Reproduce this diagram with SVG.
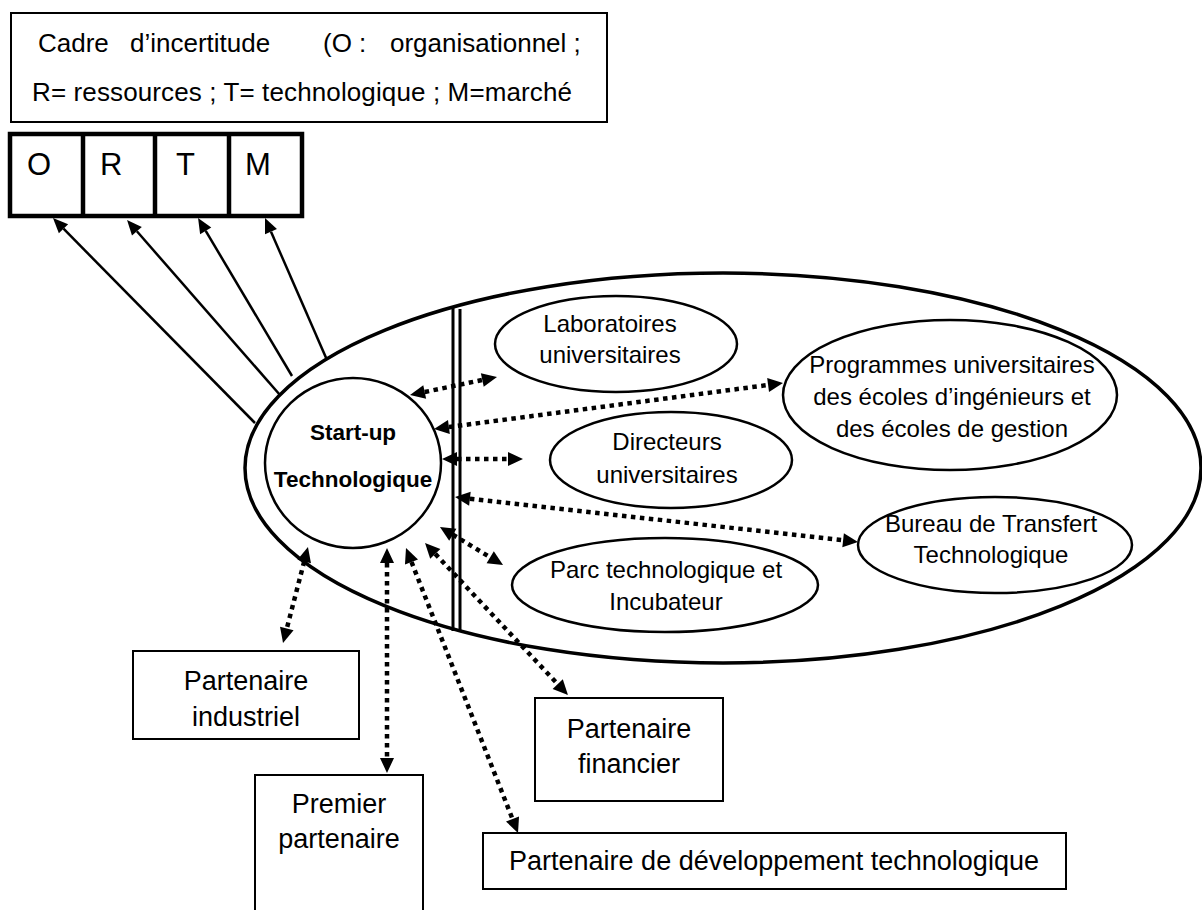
<svg xmlns="http://www.w3.org/2000/svg" width="1202" height="910" viewBox="0 0 1202 910">
<style>
text{font-family:"Liberation Sans",Arial,sans-serif;fill:#000}
.c{text-anchor:middle}
.f24{font-size:24px}
.f27{font-size:27px}
.f26{font-size:26px}
.f31{font-size:31px}
.b{font-weight:bold;font-size:22.5px}
.box{fill:#fff;stroke:#000;stroke-width:2}
.ell{fill:#fff;stroke:#000;stroke-width:2.5}
.solid{stroke:#000;stroke-width:2.5;fill:none;marker-end:url(#ah)}
.dot{stroke:#000;stroke-width:4.5;stroke-dasharray:4.5 4.5;fill:none;marker-start:url(#dh);marker-end:url(#dh)}
</style>
<defs>
<marker id="ah" markerUnits="userSpaceOnUse" viewBox="0 -7 15 14" markerWidth="15" markerHeight="14" refX="0" refY="0" orient="auto" overflow="visible">
<path d="M0,-6.5 L15,0 L0,6.5 Z" fill="#000"/>
</marker>
<marker id="dh" markerUnits="userSpaceOnUse" viewBox="0 -7 15 14" markerWidth="15" markerHeight="14" refX="0" refY="0" orient="auto-start-reverse" overflow="visible">
<path d="M0,-7 L15,0 L0,7 Z" fill="#000"/>
</marker>
</defs>
<rect width="1202" height="910" fill="#fff"/>

<g id="cadre">
<rect class="box" x="11" y="13" width="596" height="109"/>
<text class="f26" x="38" y="52">Cadre</text>
<text class="f26" x="130" y="52">d’incertitude</text>
<text class="f26" x="323" y="52">(O :</text>
<text class="f26" x="390" y="52">organisationnel ;</text>
<text class="f26" x="32" y="101" textLength="540" lengthAdjust="spacing">R= ressources ; T= technologique ; M=marché</text>
</g>

<g id="ortm">
<rect x="10" y="134" width="292" height="82" fill="#fff" stroke="#000" stroke-width="4.5"/>
<line x1="83" y1="134" x2="83" y2="216" stroke="#000" stroke-width="4.5"/>
<line x1="155" y1="134" x2="155" y2="216" stroke="#000" stroke-width="4.5"/>
<line x1="229" y1="134" x2="229" y2="216" stroke="#000" stroke-width="4.5"/>
<text class="f31" x="27" y="175">O</text>
<text class="f31" x="100" y="175">R</text>
<text class="f31" x="176" y="175">T</text>
<text class="f31" x="245" y="175">M</text>
</g>

<g id="ecosysteme">
<ellipse cx="723" cy="468" rx="478" ry="195" fill="none" stroke="#000" stroke-width="3.5"/>
<line x1="453" y1="308" x2="453" y2="631" stroke="#000" stroke-width="3"/>
<line x1="460" y1="309" x2="460" y2="631" stroke="#000" stroke-width="3"/>
</g>

<g id="startup">
<ellipse class="ell" cx="353" cy="463" rx="88" ry="85"/>
<text class="b c" x="353" y="440">Start-up</text>
<text class="b c" x="353" y="487">Technologique</text>
</g>

<g id="laboratoires">
<ellipse class="ell" cx="616" cy="344" rx="121" ry="48"/>
<text class="f24 c" x="610" y="332">Laboratoires</text>
<text class="f24 c" x="610" y="363">universitaires</text>
</g>

<g id="programmes">
<ellipse class="ell" cx="950" cy="395" rx="167" ry="75"/>
<text class="f24 c" x="952" y="373">Programmes universitaires</text>
<text class="f24 c" x="952" y="405">des écoles d’ingénieurs et</text>
<text class="f24 c" x="952" y="437">des écoles de gestion</text>
</g>

<g id="directeurs">
<ellipse class="ell" cx="671" cy="460" rx="121" ry="48"/>
<text class="f24 c" x="667" y="450">Directeurs</text>
<text class="f24 c" x="667" y="483">universitaires</text>
</g>

<g id="bureau">
<ellipse class="ell" cx="995" cy="545" rx="137" ry="48"/>
<text class="f24 c" x="991" y="532">Bureau de Transfert</text>
<text class="f24 c" x="991" y="563">Technologique</text>
</g>

<g id="parc">
<ellipse class="ell" cx="665" cy="585" rx="153" ry="47"/>
<text class="f24 c" x="666" y="578">Parc technologique et</text>
<text class="f24 c" x="666" y="610">Incubateur</text>
</g>

<g id="industriel">
<rect class="box" x="133" y="651" width="226" height="88"/>
<text class="f27 c" x="246" y="690">Partenaire</text>
<text class="f27 c" x="246" y="726">industriel</text>
</g>

<g id="premier">
<rect class="box" x="255" y="775" width="168" height="150"/>
<text class="f27 c" x="339" y="813">Premier</text>
<text class="f27 c" x="339" y="848">partenaire</text>
</g>

<g id="financier">
<rect class="box" x="535" y="698" width="188" height="103"/>
<text class="f27 c" x="629" y="738">Partenaire</text>
<text class="f27 c" x="629" y="773">financier</text>
</g>

<g id="developpement">
<rect class="box" x="483" y="833" width="583" height="56"/>
<text class="f27 c" x="774" y="870">Partenaire de développement technologique</text>
</g>

<g id="connecteurs">
<line class="solid" x1="255" y1="423" x2="63.5" y2="228.7"/>
<line class="solid" x1="280" y1="395" x2="136.9" y2="231.3"/>
<line class="solid" x1="292" y1="376" x2="205.7" y2="230.9"/>
<line class="solid" x1="327" y1="360" x2="271" y2="231.7"/>

<line class="dot" x1="424.7" y1="392" x2="482.3" y2="380"/>
<line class="dot" x1="448.9" y1="427" x2="768.1" y2="385"/>
<line class="dot" x1="457" y1="459" x2="508" y2="459"/>
<line class="dot" x1="469.9" y1="498.7" x2="843.1" y2="540.3"/>
<line class="dot" x1="452.8" y1="534.7" x2="490.2" y2="557.3"/>
<line class="dot" x1="435.3" y1="553.9" x2="557.7" y2="684.1"/>
<line class="dot" x1="411.5" y1="562" x2="512.5" y2="819"/>
<line class="dot" x1="387" y1="563" x2="387" y2="758"/>
<line class="dot" x1="304.2" y1="561.5" x2="286.8" y2="628.5"/>
</g>
</svg>
